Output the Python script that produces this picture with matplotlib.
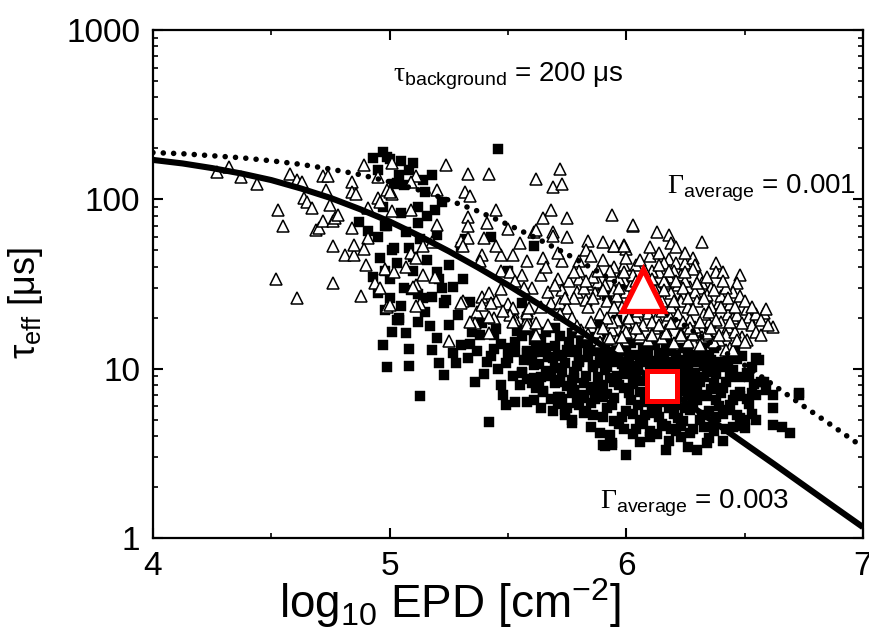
import numpy as np
import matplotlib
matplotlib.use("Agg")
import matplotlib.pyplot as plt
import matplotlib.ticker as mticker

plt.rcParams["font.family"] = ["Liberation Sans", "DejaVu Sans"]
plt.rcParams["mathtext.fontset"] = "custom"
plt.rcParams["mathtext.rm"] = "Liberation Sans"
plt.rcParams["mathtext.it"] = "Liberation Sans:italic"
plt.rcParams["mathtext.sf"] = "Liberation Serif"  # serif Greek for labels

# model curves (log10 EPD, tau_eff in us)
fit_x = [4.0, 4.125, 4.25, 4.375, 4.5, 4.625, 4.75, 4.875, 5.0, 5.125, 5.25,
         5.375, 5.5, 5.625, 5.75, 5.875, 6.0, 6.125, 6.25, 6.375, 6.5, 6.625,
         6.75, 6.875, 7.0]
fit_003 = [171, 163, 153, 142, 130, 116, 102, 87.5, 74, 60.9, 49.4, 39.5, 31.2,
           24.3, 18.8, 14.4, 11.0, 8.4, 6.35, 4.8, 3.62, 2.73, 2.05, 1.54, 1.16]
fit_001 = [189, 186, 181, 176, 169, 161, 151, 140, 127, 113.5, 99, 85, 71, 58.6,
           47.4, 37.8, 29.8, 23.2, 17.9, 13.7, 10.5, 7.96, 6.0, 4.56, 3.44]

# open triangles
tri_pts = [
    (4.27, 145), (4.32, 155), (4.37, 135), (4.44, 123), (4.53, 86), (4.55, 70),
    (4.52, 34), (4.61, 26), (4.58, 141), (4.61, 130), (4.63, 127), (4.64, 102),
    (4.65, 96), (4.67, 89), (4.69, 66), (4.70, 68), (4.72, 75), (4.73, 114),
    (4.72, 137), (4.74, 137), (4.75, 93), (4.76, 75), (4.77, 78), (4.78, 81),
    (4.76, 53), (4.76, 32), (4.81, 47), (4.85, 47), (4.85, 54), (4.84, 68),
    (4.84, 127), (4.84, 110), (4.86, 107), (4.89, 160), (4.95, 135), (4.95, 102),
    (4.96, 96), (4.99, 114), (4.91, 89), (4.91, 59), (4.89, 51), (4.90, 41),
    (4.98, 39), (4.88, 27), (4.94, 32), (4.96, 30), (4.99, 23), (5.01, 164),
    (5.24, 160), (5.33, 141), (5.42, 141), (5.62, 132), (5.72, 152), (5.69, 118),
    (5.73, 124), (5.11, 137), (5.09, 127), (5.01, 107), (5.00, 110), (5.20, 114),
    (5.32, 110), (5.34, 104), (5.45, 86), (5.33, 79), (5.41, 73), (5.33, 70),
    (5.20, 71), (5.68, 87), (5.65, 78), (5.75, 78), (5.94, 81), (6.03, 70),
    (5.61, 64), (5.69, 64), (5.75, 60), (5.84, 57), (5.83, 50), (5.95, 53),
    (6.00, 51), (5.99, 54), (5.01, 85), (5.09, 86), (5.30, 57), (5.33, 59),
    (5.40, 59), (5.31, 53), (5.18, 56), (5.14, 53), (5.09, 48), (5.11, 45),
    (5.07, 40), (5.02, 37), (5.39, 47), (5.47, 47), (5.52, 47), (5.38, 43),
    (5.58, 43), (5.65, 45), (5.73, 43), (5.71, 48), (5.80, 43), (5.69, 61),
    (5.62, 66), (5.56, 36), (5.47, 38), (5.51, 37), (5.64, 36), (5.71, 34),
    (5.80, 34), (5.86, 31.5), (5.88, 32.5), (5.14, 36), (5.19, 35), (5.11, 31),
    (5.13, 24), (5.10, 30.5), (5.31, 25), (5.39, 26.5), (5.42, 28), (5.45, 25),
    (5.47, 29.5), (5.60, 30), (5.67, 28.5), (5.73, 29), (5.79, 28.5), (5.83, 25.5),
    (5.50, 24), (5.52, 21.5), (5.58, 22), (5.64, 23), (5.68, 24), (5.37, 21.5),
    (5.44, 19.9), (5.36, 18.5), (5.53, 19.5), (5.58, 19.5),
    (5.00, 23.8), (5.11, 23.5), (5.30, 24.4), (5.39, 23.8), (5.43, 24.4),
    (5.34, 18.8), (5.42, 20.2), (5.52, 22.8), (5.51, 20.7), (5.52, 18.8),
    (5.58, 21.3), (5.58, 18.1), (5.62, 18.5), (5.67, 18.1), (5.62, 15.8),
    (5.42, 16.2), (5.25, 14.6), (5.59, 22.8), (5.68, 24.4), (5.72, 24.4), (5.75, 22.8),
    (6.03, 71), (6.13, 64), (6.18, 62), (6.19, 55), (6.21, 52), (6.32, 56),
    (5.95, 53), (5.99, 53), (6.10, 46), (6.14, 48), (6.18, 44.5), (6.21, 42),
    (6.16, 42), (6.25, 42), (6.28, 45), (6.29, 41), (6.38, 42), (6.38, 37),
    (6.41, 37), (6.48, 36), (6.47, 32), (6.45, 28.5), (5.95, 40), (5.99, 41),
    (6.04, 41), (5.94, 36), (5.99, 33.5), (6.14, 37), (6.18, 35), (6.23, 36),
    (6.28, 39), (6.31, 35), (6.32, 32), (6.36, 30), (6.31, 30), (6.27, 30.5),
    (6.22, 31), (6.17, 32), (6.13, 30), (6.09, 28.3), (5.95, 29), (6.00, 28.3),
    (6.19, 28), (6.24, 27.2), (6.29, 28.3), (6.34, 27.2), (6.39, 24.4), (6.43, 21),
    (6.45, 19.9), (6.47, 20.7), (6.51, 22.5), (6.52, 20.2), (6.53, 18.1),
    (6.58, 21.3), (6.59, 22.5), (6.62, 17.7), (6.55, 16.4), (6.57, 15.8),
    (6.49, 15.4), (6.51, 14.8), (6.43, 17.7), (6.42, 15.8), (6.46, 16.4),
    (6.40, 18.8), (6.35, 18.5), (6.32, 16.9), (6.29, 17.7), (6.27, 19.4),
    (6.22, 18.5), (6.18, 20.7), (6.13, 20.2), (6.09, 21.3), (6.04, 20.2),
    (6.00, 18.8), (5.96, 19.4), (6.07, 18.1), (6.12, 17.4), (6.17, 16.9),
    (6.23, 16.2), (6.28, 15.8), (6.32, 15.4), (6.35, 15.8), (6.39, 14.8),
    (6.44, 13.2), (6.02, 16.2), (5.99, 14.8), (6.06, 15.4), (6.09, 14.8),
    (6.15, 15.2), (6.20, 14.2), (6.26, 14.4), (6.31, 13.8), (6.37, 14.4),
    (6.42, 12.9), (6.45, 12.9), (5.94, 16.9), (5.96, 14.8),
    (5.76, 33), (5.78, 26), (5.80, 38), (5.82, 30), (5.84, 23), (5.86, 35),
    (5.87, 28), (5.89, 21), (5.90, 44), (5.91, 31), (5.92, 25), (5.93, 38),
    (5.94, 19), (5.96, 27), (5.97, 34), (5.98, 23), (5.99, 17), (5.77, 20),
    (5.81, 17), (5.85, 19), (5.88, 16.5), (5.92, 15), (5.97, 13.5), (6.01, 24),
    (6.02, 31), (6.03, 36), (6.05, 26), (6.06, 44), (6.08, 33), (6.10, 24),
    (6.11, 38), (6.12, 29), (6.15, 25), (6.16, 33), (6.19, 23), (6.20, 38),
    (6.23, 25), (6.25, 33), (6.26, 23), (6.30, 25), (6.33, 21), (6.36, 23),
    (6.40, 27), (6.42, 30), (6.44, 24),
    (6.00, 16.5), (6.06, 16.1), (6.11, 15.8), (6.17, 16.2), (6.23, 15.8),
    (6.28, 16.1), (6.34, 16.2), (6.39, 15.8), (6.47, 14.8), (6.50, 14.4),
    (5.89, 14.3), (5.93, 15.2), (5.98, 15.4),
    (6.55, 21), (6.57, 19.5), (6.60, 18),
    (5.95, 23), (5.97, 30), (5.99, 37), (6.01, 20), (6.02, 27), (6.04, 33),
    (6.05, 22), (6.07, 29), (6.08, 38), (6.09, 25), (6.11, 19), (6.11, 34),
    (6.13, 26), (6.14, 41), (6.15, 22), (6.16, 29), (6.18, 38), (6.19, 18.5),
    (6.20, 25), (6.21, 33), (6.22, 21), (6.24, 30), (6.25, 37), (6.26, 26),
    (6.27, 17.5), (6.28, 22.5), (6.30, 32), (6.31, 19), (6.33, 26), (6.34, 35),
    (6.35, 21.5), (6.37, 29), (6.38, 19.5), (6.40, 23), (6.41, 33), (6.43, 26),
    (6.44, 19), (6.46, 23), (6.48, 27), (6.49, 18.5), (6.50, 25), (6.53, 23),
    (6.04, 17.5), (6.14, 18), (6.24, 18.8), (6.36, 17.5), (5.86, 26), (5.88, 38),
    (5.90, 29), (5.92, 20), (5.83, 33), (5.78, 37), (5.74, 26), (5.70, 31),
    (5.66, 40), (5.72, 21), (5.79, 17.8), (5.84, 16), (5.90, 17.5), (6.00, 45),
    (6.10, 52), (6.25, 48), (5.85, 46), (5.90, 56), (5.55, 55), (5.50, 67),
    (5.45, 53), (5.57, 30), (5.53, 33), (5.48, 22),
]

# filled squares
sq_pts = [
    (5.46, 198), (4.97, 190), (5.00, 173), (5.05, 168), (5.10, 164), (4.93, 176),
    (4.99, 178), (5.03, 125), (5.02, 123), (5.06, 121), (5.15, 110), (5.19, 86),
    (5.12, 90), (5.16, 80), (5.12, 73), (5.05, 83), (4.97, 90), (4.99, 70),
    (5.43, 60), (5.32, 58), (5.30, 52), (5.61, 53), (5.08, 51.5), (5.10, 45.5),
    (5.01, 50), (4.98, 38), (5.10, 38), (5.20, 37), (5.21, 34), (5.31, 34),
    (5.22, 30), (5.00, 34), (5.09, 29), (5.14, 26), (5.18, 26.5), (5.23, 24.4),
    (5.24, 25.5), (5.34, 24.7), (5.04, 19.9), (5.50, 38), (5.56, 24.4),
    (5.58, 20.2), (5.89, 18.1), (5.92, 27), (5.96, 19.4), (6.03, 20.2),
    (4.87, 74), (4.91, 65), (4.95, 60), (4.98, 70), (5.02, 51.5), (4.93, 35),
    (4.95, 28), (5.00, 26), (4.98, 22.3), (5.03, 19.4),
    (5.04, 19.4), (5.01, 16.4), (5.07, 16.2), (5.12, 18.8), (5.17, 17.9),
    (5.20, 15.2), (4.97, 13.8), (4.99, 10.2), (5.08, 10.4), (5.21, 10.8),
    (5.23, 9.2), (5.28, 10.8), (5.30, 13.8), (5.34, 14.0), (5.33, 11.6),
    (5.38, 15.8), (5.39, 18.5), (5.44, 15.8), (5.44, 13.1), (5.41, 11.0),
    (5.46, 9.9), (5.49, 10.8), (5.47, 8.0), (5.13, 6.9), (5.42, 4.85),
    (5.49, 6.1), (5.53, 6.35), (5.58, 6.35), (5.50, 13.2), (5.53, 12.5),
    (5.56, 15.6), (5.61, 14.8), (5.58, 12.7), (5.61, 12.5), (5.66, 13.2),
    (5.56, 9.4), (5.61, 10.5), (5.58, 8.7), (5.61, 8.8), (5.64, 8.9),
    (5.63, 7.9), (5.65, 7.3), (5.69, 11.6), (5.71, 12.0), (5.70, 10.1),
    (5.73, 9.6), (5.72, 8.6), (5.72, 6.8), (5.71, 6.2), (5.75, 5.85),
    (5.74, 5.3), (5.77, 4.8), (5.75, 12.9), (5.77, 16.2), (5.79, 12.9),
    (5.80, 11.3), (5.78, 8.8), (5.78, 7.5), (5.82, 6.7), (5.80, 6.1),
    (5.82, 5.45), (5.85, 4.5), (5.89, 4.2), (5.93, 4.05), (5.91, 3.5),
    (5.94, 3.65), (5.86, 7.8), (5.86, 10.5), (5.83, 14.2), (5.88, 12.9),
    (5.92, 10.3),
    (5.90, 3.55), (5.94, 3.55), (6.00, 3.1), (6.06, 3.7), (6.10, 3.95),
    (6.17, 3.3), (6.18, 3.75), (6.23, 3.95), (6.26, 3.45), (6.30, 3.3),
    (6.34, 3.65), (6.37, 4.3), (6.41, 3.75), (6.45, 4.5), (6.48, 5.1),
    (6.50, 4.45), (6.55, 4.95), (5.77, 4.95), (5.74, 5.7), (5.73, 6.6),
    (5.77, 8.6), (5.78, 7.3), (5.82, 6.8), (5.85, 6.3), (6.53, 7.2),
    (6.48, 6.9), (6.56, 11.3), (6.52, 8.9),
    (6.62, 4.65), (6.69, 4.2), (6.66, 4.5), (6.62, 5.9), (6.73, 7.0),
    (6.59, 7.5), (6.57, 8.3), (6.15, 12.2), (6.55, 11.6), (6.53, 10.2),
    (6.58, 8.3), (6.62, 7.0), (6.73, 7.2), (6.43, 11.3), (6.37, 13.2),
    (5.76, 12.5), (5.78, 9.5), (5.80, 11), (5.82, 8.2), (5.84, 13.5),
    (5.77, 7.2), (5.79, 6.3), (5.83, 5.6), (5.86, 10.2), (5.85, 7.5),
    (5.81, 14.8), (5.87, 6.6), (5.88, 8.9), (5.74, 10.8), (5.72, 8.4),
    (5.89, 12.2), (5.90, 5.2), (5.91, 9.8), (5.92, 7.1), (5.93, 11.5),
    (5.94, 6.1), (5.95, 8.4), (5.96, 13.8), (5.97, 4.7), (5.98, 10.6),
    (5.99, 7.7), (6.00, 5.6), (5.92, 15.5), (5.96, 9.0), (5.90, 6.8),
    (5.98, 12.8), (6.00, 9.3),
    (6.01, 11.8), (6.02, 6.5), (6.03, 8.1), (6.04, 4.4), (6.05, 10.1),
    (6.06, 7.3), (6.07, 13.0), (6.08, 5.3), (6.09, 9.0), (6.10, 6.8),
    (6.02, 14.2), (6.04, 12.0), (6.06, 5.0), (6.08, 11.0), (6.10, 4.3),
    (6.11, 10.5), (6.12, 7.9), (6.13, 5.8), (6.14, 12.3), (6.15, 9.2),
    (6.16, 6.4), (6.17, 4.6), (6.18, 10.9), (6.19, 8.4), (6.20, 5.4),
    (6.12, 13.8), (6.14, 6.9), (6.16, 11.6), (6.18, 7.2), (6.20, 9.9),
    (6.13, 4.1), (6.19, 12.7),
    (6.21, 6.1), (6.22, 11.3), (6.23, 8.8), (6.24, 4.9), (6.25, 10.2),
    (6.26, 7.0), (6.27, 5.7), (6.28, 12.1), (6.29, 9.4), (6.30, 6.5),
    (6.22, 8.0), (6.24, 13.2), (6.26, 9.6), (6.28, 4.4), (6.30, 11.0),
    (6.21, 4.3), (6.27, 7.8),
    (6.31, 8.3), (6.32, 5.3), (6.33, 10.4), (6.34, 6.9), (6.35, 12.0),
    (6.36, 7.6), (6.37, 4.8), (6.38, 9.3), (6.39, 6.0), (6.40, 11.0),
    (6.32, 13.5), (6.36, 9.9), (6.38, 5.2),
    (6.41, 7.7), (6.42, 10.2), (6.43, 5.7), (6.44, 8.9), (6.45, 6.5),
    (6.47, 11.4), (6.48, 7.3), (6.50, 5.0), (6.51, 9.4), (6.52, 6.2),
    (6.54, 8.1), (6.46, 13.0), (6.49, 4.6),
    (5.56, 9.6), (5.58, 12.4), (5.60, 8.2), (5.62, 14.1), (5.63, 10.6),
    (5.65, 7.4), (5.66, 16.4), (5.67, 11.8), (5.68, 9.0), (5.70, 13.6),
    (5.71, 6.8), (5.72, 15.7), (5.69, 5.6), (5.64, 5.9), (5.61, 6.5),
    (5.60, 11.2), (5.62, 7.7), (5.64, 12.6), (5.66, 9.7), (5.68, 6.6),
    (5.70, 8.2), (5.73, 11.9), (5.75, 7.9), (5.76, 14.4), (5.79, 10.4),
    (5.81, 7.0), (5.83, 9.1), (5.84, 11.8), (5.86, 5.3), (5.87, 12.8),
    (5.88, 7.3), (5.89, 10.8), (5.90, 8.0), (5.91, 13.2), (5.92, 5.9),
    (5.93, 8.8), (5.94, 12.5), (5.95, 6.7), (5.96, 11.0), (5.97, 8.0),
    (5.98, 5.2), (5.99, 9.9), (6.00, 13.0), (6.01, 7.2), (6.02, 10.4),
    (6.03, 5.4), (6.04, 9.3), (6.05, 6.1), (6.06, 11.4), (6.07, 8.5),
    (6.08, 6.4), (6.09, 12.3), (6.10, 9.7), (6.11, 5.5), (6.12, 11.1),
    (6.13, 8.6), (6.14, 5.2), (6.15, 10.7), (6.16, 7.6), (6.17, 13.1),
    (6.18, 5.9), (6.19, 9.6), (6.20, 7.0), (6.21, 12.0), (6.22, 5.1),
    (6.23, 10.0), (6.24, 7.4), (6.25, 5.9), (6.26, 11.7), (6.27, 8.6),
    (6.28, 6.3), (6.29, 10.9), (6.30, 7.8), (6.31, 5.0), (6.32, 11.8),
    (6.33, 7.0), (6.34, 9.6), (6.35, 5.6), (6.36, 11.2), (6.37, 8.2),
    (6.38, 6.5), (6.39, 10.4), (6.40, 7.2), (6.41, 5.4), (6.42, 8.4),
    (6.43, 12.2), (6.44, 6.1), (6.45, 9.8), (6.46, 7.0), (6.47, 5.3),
    (6.48, 8.9), (6.49, 11.9), (6.51, 6.6), (6.53, 5.4), (6.55, 7.0),
    (6.13, 9.8), (6.17, 8.9), (6.21, 9.2), (6.25, 8.2), (6.29, 7.0),
    (6.33, 8.9), (6.11, 6.3), (6.15, 4.7), (6.19, 4.4), (6.23, 4.6),
    (6.27, 4.2), (6.33, 4.5), (6.07, 4.7), (6.03, 4.1), (5.99, 4.4),
    (5.95, 4.9), (6.35, 3.9), (6.42, 4.4), (6.05, 14.8), (6.10, 13.9),
    (6.18, 14.0), (6.26, 13.0), (6.34, 14.1), (5.86, 15.4), (5.80, 16.5),
    (5.70, 17.4), (5.64, 15.0), (5.60, 17.0), (5.53, 14.4), (5.57, 11.2),
    (5.55, 8.0),
    (5.35, 16.5), (5.37, 12.8), (5.40, 9.3), (5.43, 11.9), (5.45, 17.2),
    (5.47, 13.9), (5.48, 7.0), (5.50, 11.5), (5.52, 9.0), (5.54, 16.8),
    (5.36, 8.4), (5.27, 12.4), (5.25, 18.0), (5.29, 20.8), (5.18, 12.9),
    (5.15, 21.5), (5.08, 13.0), (5.05, 23.5), (5.12, 27.8), (5.27, 30.5),
    (5.25, 41), (5.16, 44), (5.06, 30), (5.03, 42), (4.96, 45), (5.13, 58),
    (5.20, 62), (5.07, 64), (5.22, 97), (5.14, 130), (5.08, 150), (5.18, 140),
    (4.95, 150), (5.04, 140),
]

# sample averages (big red markers)
avg_tri = (6.07, 29)
avg_sq = (6.15, 7.9)

tri_x, tri_y = np.array(tri_pts).T
sq_x, sq_y = np.array(sq_pts).T

fig = plt.figure(figsize=(8.69, 6.39), dpi=100)
ax = fig.add_axes([0.176, 0.158, 0.817, 0.795])

ax.plot(sq_x, sq_y, ls="none", marker="s", ms=6.8, mfc="black", mec="black",
        mew=0.3, zorder=2)
ax.plot(tri_x, tri_y, ls="none", marker="^", ms=8.5, mfc="white", mec="black",
        mew=1.1, zorder=3)
ax.plot(fit_x, fit_003, color="black", lw=4.4, solid_capstyle="butt", zorder=4)
ax.plot(fit_x, fit_001, color="black", lw=4.0, ls=(0, (0.01, 1.85)),
        dash_capstyle="round", zorder=4)
ax.plot(*avg_tri, ls="none", marker="^", ms=30, mfc="white", mec="#ff0000",
        mew=3.8, zorder=6)
ax.plot(*avg_sq, ls="none", marker="s", ms=22, mfc="white", mec="#ff0000",
        mew=3.6, zorder=6)

ax.set_xlim(4, 7)
ax.set_yscale("log")
ax.set_ylim(1, 1000)
ax.xaxis.set_major_locator(mticker.MultipleLocator(1))
ax.xaxis.set_minor_locator(mticker.MultipleLocator(0.5))
ax.yaxis.set_major_locator(mticker.LogLocator(base=10))
ax.yaxis.set_minor_locator(mticker.LogLocator(base=10, subs=np.arange(2, 10)))
ax.yaxis.set_major_formatter(mticker.FuncFormatter(lambda v, p: f"{v:g}"))
ax.yaxis.set_minor_formatter(mticker.NullFormatter())

ax.tick_params(which="both", direction="in", top=True, right=True)
ax.tick_params(which="major", length=7, width=1.5, labelsize=24, pad=9)
ax.tick_params(which="minor", length=3.5, width=1.2)
for s in ax.spines.values():
    s.set_linewidth(1.6)

ax.set_xlabel(r"log$_{10}$ EPD [cm$^{-2}$]", fontsize=33, va="baseline")
ax.xaxis.set_label_coords(0.418, -0.157)
ax.set_ylabel(r"$\mathrm{τ_{eff}}$ [μs]", fontsize=26)
ax.yaxis.set_label_coords(-0.152, 0.463)

ax.text(0.338, 0.898, r"$\mathsf{τ}_{\mathrm{background}}$ = 200 μs",
        transform=ax.transAxes, fontsize=20, va="baseline", ha="left")
ax.text(0.724, 0.679, r"$\mathsf{Γ}_{\mathrm{average}}$ = 0.001",
        transform=ax.transAxes, fontsize=20, va="baseline", ha="left")
ax.text(0.630, 0.059, r"$\mathsf{Γ}_{\mathrm{average}}$ = 0.003",
        transform=ax.transAxes, fontsize=20, va="baseline", ha="left")

fig.savefig("out.png", dpi=100)
